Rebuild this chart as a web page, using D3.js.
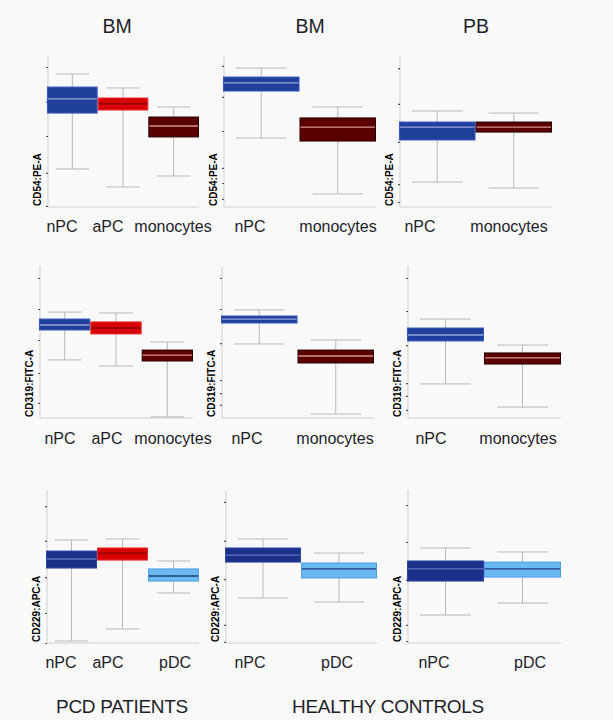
<!DOCTYPE html>
<html>
  <head>
    <meta charset="utf-8" />
    <title>CD54 / CD319 / CD229 box plots</title>
    <script src="https://d3js.org/d3.v7.min.js"></script>
    <style>
      body {
        margin: 0;
        background-color: #f9f9fa;
      }
      svg {
        display: block;
        font-family: "Liberation Sans", Arial, sans-serif;
      }
    </style>
  </head>

  <body>
    <svg width="613" height="720" id="chart"></svg>

    <script>
      // titles and labels
      const columnTitles = ["BM", "BM", "PB"];
      const markers = ["CD54:PE-A", "CD319:FITC-A", "CD229:APC-A"];
      const footers = ["PCD PATIENTS", "HEALTHY CONTROLS"];

      const patientGroups = ["nPC", "aPC", "monocytes"];
      const controlGroups = ["nPC", "monocytes"];
      const patientGroupsPdc = ["nPC", "aPC", "pDC"];
      const controlGroupsPdc = ["nPC", "pDC"];

      // box stats: [low whisker, q1, median, q3, high whisker], axis units 0-100
      const cd54PatientBM = [[25.0, 61.8, 71.1, 78.9, 87.5], [13.2, 63.8, 67.8, 71.7, 78.3], [20.4, 46.1, 53.3, 59.2, 65.8]];
      const cd54ControlBM = [[45.4, 76.3, 81.6, 85.5, 91.4], [8.6, 43.4, 52.6, 58.6, 65.8]];
      const cd54ControlPB = [[16.4, 44.1, 52.6, 55.9, 63.2], [12.5, 49.3, 52.6, 55.9, 61.8]];

      const cd319PatientBM = [[38.2, 57.9, 61.2, 65.1, 69.7], [34.2, 55.3, 59.2, 63.2, 69.1], [0.7, 37.5, 41.4, 44.7, 50.0]];
      const cd319ControlBM = [[48.7, 62.5, 65.1, 67.1, 71.1], [2.6, 36.2, 40.8, 44.7, 51.3]];
      const cd319ControlPB = [[22.4, 50.7, 54.6, 59.2, 65.1], [7.2, 35.5, 39.5, 42.8, 48.0]];

      const cd229PatientBM = [[1.3, 49.0, 54.9, 60.1, 67.3], [9.2, 54.2, 58.8, 62.1, 68.0], [32.7, 40.5, 43.8, 48.4, 53.6]];
      const cd229ControlBM = [[29.4, 52.9, 57.5, 62.1, 68.0], [26.8, 42.5, 48.4, 52.3, 58.8]];
      const cd229ControlPB = [[18.3, 40.5, 48.4, 53.6, 62.1], [26.1, 43.1, 48.4, 52.9, 59.5]];

      // tick positions (logicle axis, labels too small to read)
      const ticks = [
        [[0.7, 22.4, 46.7, 69.1, 92.1], [5.3, 15.8, 25.7, 50, 72.4, 92.8], [3.3, 15.1, 42.8, 67.8, 91.4]],
        [[9.9, 29.6, 51.3, 71.7, 92.1], [8.6, 16.4, 25, 49.3, 71.7, 92.1], [5.3, 14.5, 23, 48, 70.4, 92.1]],
        [[0, 19.6, 43.1, 66.7, 89.5], [0.7, 11.8, 41.8, 66.7, 92.2], [1.3, 11.8, 41.2, 66, 90.2]]
      ];

      const panels = [
        [[patientGroups, cd54PatientBM], [controlGroups, cd54ControlBM], [controlGroups, cd54ControlPB]],
        [[patientGroups, cd319PatientBM], [controlGroups, cd319ControlBM], [controlGroups, cd319ControlPB]],
        [[patientGroupsPdc, cd229PatientBM], [controlGroupsPdc, cd229ControlBM], [controlGroupsPdc, cd229ControlPB]]
      ];

      const styles = {
        nPC: { fill: "#1f3f9b", stroke: "#3457c0", median: "#98a6dc" },
        aPC: { fill: "#d80000", stroke: "#ee2a2a", median: "#8c0000" },
        monocytes: { fill: "#5a0000", stroke: "#2a0000", median: "#d99090" },
        pDC: { fill: "#6bb8f2", stroke: "#4a9fe6", median: "#1d3b7c" },
        nPCdark: { fill: "#1b3088", stroke: "#2a44a8", median: "#5f74b8" }
      };

      // layout
      const rowY = [[55, 207], [266, 418], [490, 643]];
      const panelX = [
        [[47, 199], [223, 376], [399, 552]],
        [[39, 193], [221, 374], [407, 561]],
        [[46, 199], [225, 377], [407, 561]]
      ];
      const labelX = [
        [[62, 108, 173], [250, 338], [420, 509]],
        [[60, 107, 173], [247, 335], [431, 518]],
        [[61, 108, 175], [250, 337], [434, 530]]
      ];
      const labelBase = [232, 444, 668];
      const titleX = [117, 310, 476];

      const svg = d3.select("#chart");

      svg.selectAll("text.title")
        .data(columnTitles)
        .enter()
        .append("text")
        .attr("class", "title")
        .attr("x", (d, i) => titleX[i])
        .attr("y", 33)
        .attr("text-anchor", "middle")
        .attr("font-size", 19.5)
        .attr("fill", "#1e1e28")
        .text(d => d);

      panels.forEach((row, r) => {
        row.forEach((panel, c) => {
          const groups = panel[0];
          const stats = panel[1];
          const xr = panelX[r][c];

          const x = d3.scaleBand().domain(groups).range(xr).padding(0);
          const y = d3.scaleLinear().domain([0, 100]).range([rowY[r][1], rowY[r][0]]);
          const g = svg.append("g");

          // axis lines
          g.append("line")
            .attr("x1", xr[0] + 1).attr("x2", xr[0] + 1)
            .attr("y1", y(100)).attr("y2", y(0))
            .attr("stroke", "#cfcfcf");
          g.append("line")
            .attr("x1", xr[0] + 1).attr("x2", xr[1])
            .attr("y1", y(0)).attr("y2", y(0))
            .attr("stroke", "#cfcfcf");

          const axis = d3.axisLeft(y)
            .tickValues(ticks[r][c])
            .tickSize(2)
            .tickFormat("");
          const ax = g.append("g")
            .attr("transform", "translate(" + (xr[0] + 1) + ",0)")
            .call(axis);
          ax.select(".domain").remove();
          ax.selectAll(".tick line").attr("stroke", "#555").attr("stroke-width", 1.2);

          // marker label
          g.append("text")
            .attr("transform", "translate(" + (xr[0] - 6) + "," + (y(0) - 1) + ") rotate(-90)")
            .attr("font-size", 10)
            .attr("font-weight", "bold")
            .attr("fill", "#000")
            .text(markers[r]);

          const box = g.selectAll("g.box")
            .data(stats)
            .enter()
            .append("g")
            .attr("class", "box");

          const capW = x.bandwidth() * 0.66;
          const cx = (d, i) => x(groups[i]) + x.bandwidth() / 2;
          const st = i => styles[(r === 2 && groups[i] === "nPC") ? "nPCdark" : groups[i]];

          box.append("line")
            .attr("x1", cx).attr("x2", cx)
            .attr("y1", d => y(d[4])).attr("y2", d => y(d[0]))
            .attr("stroke", "#b9b9b9");
          box.append("line")
            .attr("x1", (d, i) => cx(d, i) - capW / 2).attr("x2", (d, i) => cx(d, i) + capW / 2)
            .attr("y1", d => y(d[4])).attr("y2", d => y(d[4]))
            .attr("stroke", "#b9b9b9");
          box.append("line")
            .attr("x1", (d, i) => cx(d, i) - capW / 2).attr("x2", (d, i) => cx(d, i) + capW / 2)
            .attr("y1", d => y(d[0])).attr("y2", d => y(d[0]))
            .attr("stroke", "#b9b9b9");

          box.append("rect")
            .attr("x", (d, i) => x(groups[i]) + 0.5)
            .attr("width", x.bandwidth() - 1)
            .attr("y", d => y(d[3]))
            .attr("height", d => y(d[1]) - y(d[3]))
            .attr("fill", (d, i) => st(i).fill)
            .attr("stroke", (d, i) => st(i).stroke)
            .attr("stroke-width", 1);

          box.append("line")
            .attr("x1", (d, i) => x(groups[i]) + 1)
            .attr("x2", (d, i) => x(groups[i]) + x.bandwidth() - 1)
            .attr("y1", d => y(d[2])).attr("y2", d => y(d[2]))
            .attr("stroke", (d, i) => st(i).median)
            .attr("stroke-width", 1.3);

          g.selectAll("text.cat")
            .data(groups)
            .enter()
            .append("text")
            .attr("class", "cat")
            .attr("x", (d, i) => labelX[r][c][i])
            .attr("y", labelBase[r])
            .attr("text-anchor", "middle")
            .attr("font-size", 16)
            .attr("fill", "#1e1e28")
            .text(d => d);
        });
      });

      svg.selectAll("text.footer")
        .data(footers)
        .enter()
        .append("text")
        .attr("class", "footer")
        .attr("x", (d, i) => i === 0 ? 122 : 388)
        .attr("y", 713)
        .attr("text-anchor", "middle")
        .attr("font-size", 19)
        .attr("letter-spacing", -0.3)
        .attr("fill", "#1e1e28")
        .text(d => d);
    </script>
  </body>
</html>
